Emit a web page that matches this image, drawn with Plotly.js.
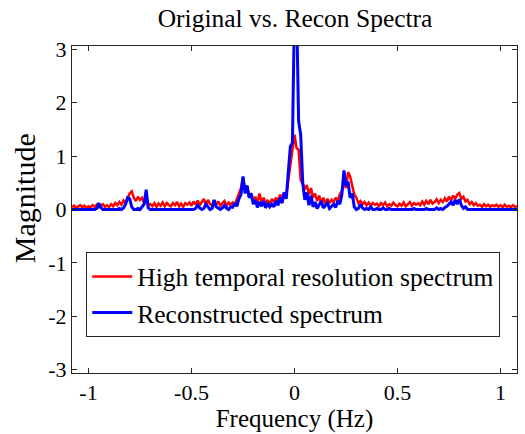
<!DOCTYPE html>
<html>
<head>
<meta charset="utf-8">
<script src="https://cdn.plot.ly/plotly-3.0.1.min.js"></script>
<style>html,body{margin:0;padding:0;background:#fff;}#chart{width:525px;height:434px;}</style>
</head>
<body>
<div id="chart"></div>
<script>
// Frequency grid: starts at -1.08 Hz, step 0.01 Hz (217 samples)
const freqStart = -1.08;
const freqStep = 0.01;

const seriesNames = ["High temporal resolution spectrum", "Reconstructed spectrum"];

// High temporal resolution spectrum magnitudes
const highResSpectrum = [
  0.04,0.07,0.03,0.06,0.08,0.04,0.07,0.03,
  0.06,0.04,0.08,0.05,0.09,0.04,0.07,0.10,0.05,0.08,
  0.05,0.10,0.06,0.12,0.08,0.14,0.09,0.17,0.12,0.22,
  0.30,0.34,0.22,0.16,0.24,0.18,0.22,0.12,0.16,0.08,
  0.10,0.06,0.12,0.05,0.11,0.07,0.13,0.06,0.12,0.08,
  0.06,0.12,0.08,0.14,0.06,0.11,0.05,0.12,0.09,0.13,
  0.07,0.15,0.09,0.17,0.08,0.14,0.20,0.08,0.18,0.10,
  0.08,0.17,0.09,0.15,0.07,0.12,0.16,0.06,0.13,0.09,
  0.13,0.09,0.20,0.28,0.40,0.60,0.38,0.42,0.24,0.28,
  0.16,0.24,0.12,0.30,0.14,0.22,0.10,0.18,0.08,0.20,
  0.14,0.22,0.16,0.28,0.20,0.32,0.26,0.55,0.85,1.20,
  1.40,1.15,1.12,0.55,0.48,0.38,0.46,0.28,0.40,0.22,
  0.30,0.16,0.26,0.12,0.22,0.10,0.20,0.12,0.18,0.14,
  0.22,0.16,0.28,0.35,0.50,0.40,0.70,0.62,0.45,0.28,
  0.22,0.12,0.16,0.10,0.14,0.08,0.13,0.07,0.12,0.09,
  0.11,0.06,0.12,0.08,0.13,0.06,0.10,0.07,0.13,0.08,
  0.06,0.11,0.07,0.13,0.06,0.10,0.14,0.07,0.12,0.09,
  0.12,0.08,0.15,0.09,0.16,0.10,0.18,0.11,0.14,0.19,
  0.12,0.18,0.14,0.21,0.15,0.24,0.17,0.26,0.20,0.28,
  0.31,0.20,0.24,0.15,0.18,0.10,0.14,0.08,0.12,0.07,
  0.09,0.05,0.10,0.06,0.09,0.05,0.08,0.06,0.09,0.05,
  0.08,0.04,0.09,0.05,0.07,0.04,0.08,0.05,0.06
];

// Reconstructed spectrum magnitudes
const reconSpectrum = [
  0,0,0,0,0,0,0,0,
  0,0,0,0,0.02,0.12,0.04,0,0,0,
  0,0,0,0,0,0.02,0,0.03,0.10,0.22,
  0.20,0.05,0,0,0.02,0,0.04,0.10,0.37,0.03,
  0,0,0,0,0,0,0,0,0,0,
  0,0,0,0,0,0,0,0,0,0,
  0,0,0.02,0.08,0.03,0,0.02,0.10,0.05,0,
  0.02,0.18,0.05,0.02,0,0.03,0.08,0.02,0,0.05,
  0.04,0.12,0.06,0.20,0.28,0.62,0.30,0.45,0.22,0.30,
  0.10,0.18,0.04,0.14,0.06,0.16,0.03,0.12,0.05,0.10,
  0.05,0.16,0.08,0.22,0.12,0.32,0.20,0.71,1.18,1.25,
  3.80,3.80,1.65,1.40,0.50,0.18,0.32,0.08,0.26,0.05,
  0.14,0.02,0.10,0.16,0.03,0.08,0.12,0.02,0.06,0.10,
  0.04,0.16,0.10,0.28,0.73,0.45,0.52,0.22,0.30,0.05,
  0,0.02,0.10,0.03,0,0.02,0,0.05,0,0,
  0.02,0,0,0.03,0,0,0.02,0,0,0,
  0,0,0,0,0,0,0,0,0.02,0,
  0,0,0,0,0.02,0,0,0,0,0.03,
  0,0.02,0,0.04,0.06,0.10,0.14,0.08,0.18,0.10,
  0.19,0.08,0.02,0.05,0,0,0,0,0,0,
  0,0,0,0,0,0,0,0,0,0,
  0,0,0,0,0,0,0,0,0
];

const xTicks = [-1, -0.5, 0, 0.5, 1];
const xTickLabels = ["-1", "-0.5", "0", "0.5", "1"];
const yTicks = [-3, -2, -1, 0, 1, 2, 3];
const yTickLabels = ["-3", "-2", "-1", "0", "1", "2", "3"];

const FONT = "'Liberation Serif', 'Times New Roman', Times, serif";

const traces = [
  {
    type: "scatter", mode: "lines", name: seriesNames[0],
    x0: freqStart, dx: freqStep, y: highResSpectrum,
    line: {color: "#ff0000", width: 2.5}
  },
  {
    type: "scatter", mode: "lines", name: seriesNames[1],
    x0: freqStart, dx: freqStep, y: reconSpectrum,
    line: {color: "#0000ff", width: 3}
  }
];

const axisCommon = {
  showgrid: false, zeroline: false, showline: true, linecolor: "#262626", linewidth: 1,
  mirror: "ticks", ticks: "inside", ticklen: 5, tickcolor: "#262626",
  tickfont: {family: FONT, size: 22, color: "#000"}
};

const layout = {
  width: 525, height: 434,
  margin: {l: 72, r: 8, t: 46, b: 61},
  paper_bgcolor: "#fff", plot_bgcolor: "#fff",
  font: {family: FONT, color: "#000"},
  title: {text: "Original vs. Recon Spectra", font: {family: FONT, size: 25.5, color: "#000"},
          x: 0.562, xanchor: "center", y: 0.958, yanchor: "middle", yref: "container"},
  xaxis: Object.assign({}, axisCommon, {
    range: [-1.08, 1.08], tickvals: xTicks, ticktext: xTickLabels,
    title: {text: "Frequency (Hz)", font: {family: FONT, size: 25, color: "#000"}, standoff: 4}
  }),
  yaxis: Object.assign({}, axisCommon, {
    range: [-3.06, 3.06], tickvals: yTicks, ticktext: yTickLabels
  }),
  annotations: [{
    text: "Magnitude", textangle: -90, showarrow: false,
    xref: "paper", yref: "paper", x: -0.106, y: 0.534, xanchor: "center", yanchor: "middle",
    font: {family: FONT, size: 30, color: "#000"}
  }],
  showlegend: true,
  legend: {
    x: 0.032, y: 0.369, xanchor: "left", yanchor: "top",
    bgcolor: "#fff", bordercolor: "#262626", borderwidth: 1,
    font: {family: FONT, size: 25.5, color: "#000"},
    itemwidth: 40, tracegroupgap: 0
  }
};

Plotly.newPlot("chart", traces, layout, {displayModeBar: false, staticPlot: true});
</script>
</body>
</html>
